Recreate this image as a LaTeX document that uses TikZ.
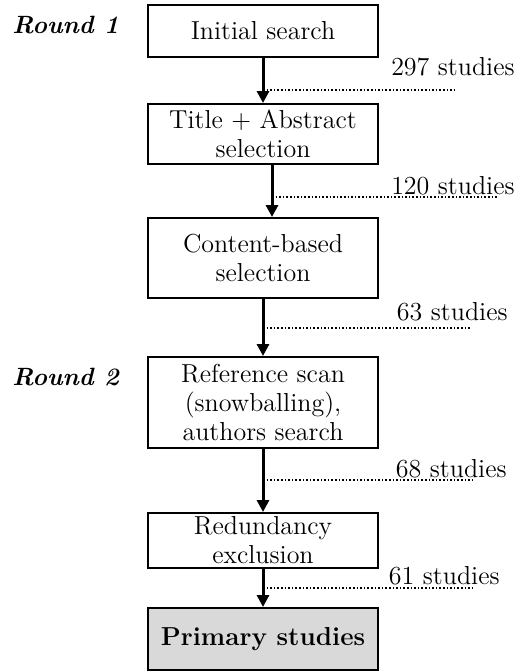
\documentclass[tikz,border=0pt]{standalone}
\usepackage{amsmath,amssymb}
\usepackage[]{xcolor}
\usepackage[]{tikz}
\usetikzlibrary{arrows.meta}

\definecolor{primarygray}{RGB}{217,217,217}
\tikzset{
  stagebox/.style={draw, line width=1pt, minimum width=115pt, inner sep=0pt, align=center, font=\fontsize{13}{14.5}\selectfont},
  flow/.style={->, line width=1.5pt},
  countline/.style={densely dotted, line width=0.8pt},
  countlabel/.style={anchor=base east, inner sep=0pt, font=\fontsize{13}{14.5}\selectfont},
  roundlabel/.style={anchor=base west, inner sep=0pt, font=\fontsize{12.5}{14}\selectfont\bfseries\itshape},
}

\begin{document}
\begin{tikzpicture}[>={Triangle[length=6pt,width=6pt]}, x=0.5pt, y=-0.5pt]
        \useasboundingbox (0,0) rectangle (515,671);

        \node[roundlabel] (round1) at (12,33) {Round 1};
        \node[roundlabel] (round2) at (12,385) {Round 2};

        \node[stagebox, minimum height=26pt] (init) at (263,31) {Initial search};
        \node[stagebox, minimum height=30pt] (title) at (263,134) {Title + Abstract\\selection};
        \node[stagebox, minimum height=40pt] (content) at (263,258) {Content-based\\selection};
        \node[stagebox, minimum height=45.5pt] (refscan) at (263,402.5) {Reference scan\\(snowballing),\\authors search};
        \node[stagebox, minimum height=27.5pt] (redund) at (263,540.5) {Redundancy\\exclusion};
        \node[stagebox, minimum height=31pt, fill=primarygray, font=\fontsize{13}{14.5}\selectfont\bfseries] (primary) at (263,639) {Primary studies};

        \draw[flow] (init) -- (title);
        \draw[flow] ([xshift=4.5pt]title.south) -- ([xshift=4.5pt]content.north);
        \draw[flow] (content) -- (refscan);
        \draw[flow] (refscan) -- (redund);
        \draw[flow] (redund) -- (primary);

        \coordinate (c1) at (457,90);
        \coordinate (c2) at (498,197);
        \coordinate (c3) at (470,328);
        \coordinate (c4) at (472,480);
        \coordinate (c5) at (472,588);

        \draw[countline] (init.south |- c1) -- (c1);
        \draw[countline] ([xshift=4.5pt]title.south |- c2) -- (c2);
        \draw[countline] (content.south |- c3) -- (c3);
        \draw[countline] (refscan.south |- c4) -- (c4);
        \draw[countline] (redund.south |- c5) -- (c5);

        \node[countlabel] (n1) at (515,75) {297 studies};
        \node[countlabel] (n2) at (515,194) {120 studies};
        \node[countlabel] (n3) at (508,320) {63 studies};
        \node[countlabel] (n4) at (507,477) {68 studies};
        \node[countlabel] (n5) at (500,584) {61 studies};
      \end{tikzpicture}
\end{document}
